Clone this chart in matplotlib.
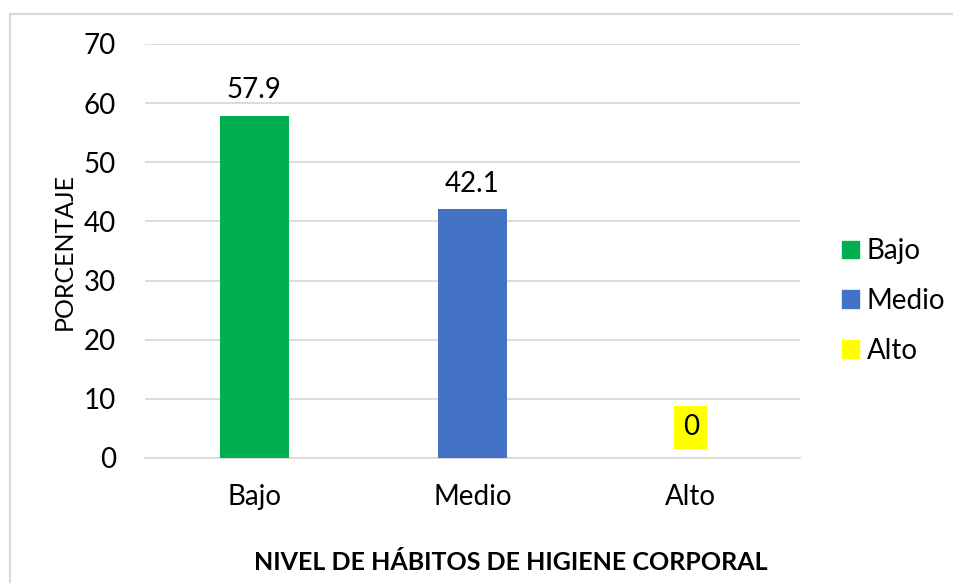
import matplotlib
matplotlib.use("Agg")
import matplotlib.pyplot as plt
from matplotlib.lines import Line2D

categories = ["Bajo", "Medio", "Alto"]
values = [57.9, 42.1, 0]
colors = ["#00B050", "#4472C4", "#FFFF00"]
yticks = [0, 10, 20, 30, 40, 50, 60, 70]
label_texts = ["57.9", "42.1", "0"]

plt.rcParams['font.family'] = ['Lato', 'DejaVu Sans']
FS = 20

fig = plt.figure(figsize=(9.54, 5.83), dpi=100)
ax = fig.add_axes([145/954, 125/583, 655/954, 414/583])

x = range(len(categories))
ax.bar(x, values, width=0.317, color=colors, zorder=3)
ax.set_xlim(-0.5, 2.5)
ax.set_ylim(0, 70)
ax.set_yticks(yticks)
ax.set_xticks(list(x))
ax.set_xticklabels(categories, fontsize=FS)
ax.tick_params(axis='y', labelsize=FS, length=0, pad=21)
ax.tick_params(axis='x', length=0, pad=19)
ax.grid(axis='y', color='#D9D9D9', linewidth=1.3, zorder=0)
for s in ['top', 'right', 'left']:
    ax.spines[s].set_visible(False)
ax.spines['bottom'].set_color('#D9D9D9')
ax.spines['bottom'].set_linewidth(1.3)

for i, (v, t) in enumerate(zip(values, label_texts)):
    if v == 0:
        ax.text(i, 5.2, t, ha='center', va='center', fontsize=FS,
                bbox=dict(boxstyle='square,pad=0.3', fc='#FFFF00', ec='none'), zorder=4)
    else:
        ax.text(i, v + 4.3, t, ha='center', va='center', fontsize=FS, zorder=4)

ax.set_ylabel("PORCENTAJE", fontsize=18, labelpad=6)
fig.text(511/954, 1 - 563/583, "NIVEL DE HÁBITOS DE HIGIENE CORPORAL", ha='center', va='center',
         fontsize=18, fontweight='bold')

handles = [plt.Rectangle((0, 0), 1, 1, color=c) for c in colors]
fig.legend(handles, categories, loc='center left', bbox_to_anchor=(842/954, 1 - 301/583),
           frameon=False, fontsize=FS, handlelength=0.6, handleheight=0.6,
           handletextpad=0.3, labelspacing=0.85, borderpad=0, borderaxespad=0)

# outer chart border (top and left visible)
fig.add_artist(Line2D([10/954, 1.0], [1 - 13.5/583] * 2, transform=fig.transFigure, color='#D9D9D9', lw=1.5))
fig.add_artist(Line2D([10/954] * 2, [0, 1 - 13.5/583], transform=fig.transFigure, color='#D9D9D9', lw=1.5))

fig.savefig("out.png", dpi=100)
